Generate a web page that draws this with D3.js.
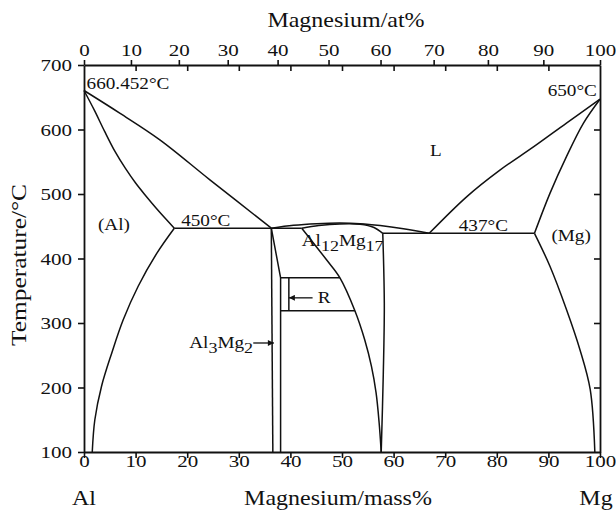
<!DOCTYPE html>
<html>
<head>
<meta charset="utf-8">
<script src="https://cdn.jsdelivr.net/npm/d3@7"></script>
<style>
  html, body { margin: 0; padding: 0; background: #fff; }
  svg text { font-family: "Liberation Serif", "Times New Roman", serif; fill: #111; }
</style>
</head>
<body>
<svg id="chart" width="616" height="511"></svg>
<script>
// Al-Mg phase diagram: Mg content in mass% against temperature in degC

// axis ticks
const massTicks = [0, 10, 20, 30, 40, 50, 60, 70, 80, 90, 100];
const atTicks = [0, 10, 20, 30, 40, 50, 60, 70, 80, 90, 100];
const tempTicks = [100, 200, 300, 400, 500, 600, 700];

// phase boundaries, [mass% Mg, temperature]
const liquidusAl = [[0, 660.452], [7, 625], [14.7, 584], [24.4, 522], [36.3, 447]];
const solidusAl = [[0, 660.452], [2, 630], [4, 597], [6, 566], [8, 540], [10, 517], [12, 497], [14, 478], [16, 460], [17.5, 447]];
const solvusAl = [[17.5, 447], [14.1, 408], [10.5, 357], [7.6, 305], [5.4, 254], [3.4, 202], [2.1, 150], [1.6, 100]];
const eutecticAl = [[17.5, 447], [42.2, 447]];

const al3mg2Left = [[36.3, 447], [36.6, 100]];
const al3mg2Right = [[36.3, 447], [38.1, 370], [38.1, 100]];
const rTop = [[38.1, 370], [49.6, 370]];
const rBottom = [[38.1, 319], [52.5, 319]];
const rLine = [[39.7, 370], [39.7, 319]];

const gammaLiquidus = [[36.3, 447], [40.6, 451.5], [45.1, 454], [49.6, 455], [53.5, 454], [57.4, 451], [61.9, 446], [66.9, 439]];
const gammaSolidus = [[42.2, 447], [45.5, 451], [49.6, 453.5], [53.5, 453], [56.2, 448], [57.9, 439]];
const gammaLeft = [[42.2, 447], [47.0, 398], [49.6, 370], [52.5, 319], [54.4, 274], [55.7, 233], [56.6, 192], [57.2, 145], [57.6, 100]];
const gammaRight = [[57.9, 439], [58.2, 330], [58.0, 220], [57.6, 100]];

const liquidusMg = [[66.9, 439], [74.2, 496], [80.6, 537], [87.1, 573], [93.5, 610], [100, 647]];
const solidusMg = [[87.3, 439], [90.3, 501], [93.5, 558], [96.8, 610], [100, 647]];
const solvusMg = [[87.3, 439], [90.3, 388], [93.5, 321], [96.1, 259], [98.1, 197], [99.0, 100]];
const eutecticMg = [[57.9, 439], [87.3, 439]];

// labels placed in data units
const labels = [
  { t: "660.452°C", m: 0.5, T: 663, anchor: "start" },
  { t: "650°C", m: 99.4, T: 652, anchor: "end" },
  { t: "L", m: 68.2, T: 559, anchor: "middle" },
  { t: "437°C", m: 77.4, T: 443, anchor: "middle" },
  { t: "(Mg)", m: 94.4, T: 427, anchor: "middle" },
  { t: "(Al)", m: 5.8, T: 444, anchor: "middle" },
  { t: "450°C", m: 23.6, T: 450.5, anchor: "middle" },
  { t: "R", m: 45.3, T: 331, anchor: "start" }
];
const formulas = [
  { parts: [["Al", 0], ["12", 1], ["Mg", 0], ["17", 1]], m: 42.2, T: 419.5 },
  { parts: [["Al", 0], ["3", 1], ["Mg", 0], ["2", 1]], m: 20.4, T: 260.5 }
];
const arrows = [
  { from: [32.8, 269], to: [36.8, 269] },
  { from: [44.3, 339], to: [39.7, 339] }
];

const svg = d3.select("#chart");
const sx = 1.2; // glyphs in the source are a bit wide

const x = d3.scaleLinear().domain([0, 100]).range([84, 600]);
const y = d3.scaleLinear().domain([100, 700]).range([452, 65]);

// at% -> mass% for the upper axis
const atToMass = a => 100 * a * 24.305 / (a * 24.305 + (100 - a) * 26.982);

svg.append("defs").append("marker")
  .attr("id", "arrow")
  .attr("viewBox", "0 0 10 10")
  .attr("refX", 10).attr("refY", 5)
  .attr("markerUnits", "userSpaceOnUse")
  .attr("markerWidth", 8).attr("markerHeight", 6)
  .attr("orient", "auto")
  .append("path").attr("d", "M0,0L10,5L0,10z").attr("fill", "#111");

function styleAxis(g, size) {
  g.attr("font-family", null).attr("font-size", null);
  g.select(".domain").attr("stroke", "#111").attr("stroke-width", 1.8);
  g.selectAll(".tick line").attr("stroke", "#111").attr("stroke-width", 1.6);
  g.selectAll(".tick text").style("font-size", size + "px");
}

// bottom axis
svg.append("g")
  .attr("transform", "translate(0," + y(100) + ")")
  .call(d3.axisBottom(x).tickValues(massTicks).tickSize(6).tickSizeOuter(0).tickPadding(-3))
  .call(g => styleAxis(g, 17.5))
  .call(g => g.selectAll(".tick text").attr("transform", "scale(" + sx + ",1)"));

// top axis, at% labels
svg.append("g")
  .attr("transform", "translate(0," + y(700) + ")")
  .call(d3.axisTop(x).tickValues(atTicks.map(atToMass)).tickFormat((d, i) => atTicks[i])
    .tickSize(5).tickSizeOuter(0).tickPadding(4))
  .call(g => styleAxis(g, 17.5))
  .call(g => g.selectAll(".tick text").attr("transform", "scale(" + sx + ",1)"));

// top axis, inner mass% ticks
svg.append("g")
  .attr("transform", "translate(0," + y(700) + ")")
  .call(d3.axisTop(x).tickValues(massTicks.slice(1, -1)).tickFormat("").tickSize(-6).tickSizeOuter(0))
  .call(g => styleAxis(g, 17.5))
  .call(g => g.select(".domain").remove());

// left axis
svg.append("g")
  .attr("transform", "translate(" + x(0) + ",0)")
  .call(d3.axisLeft(y).tickValues(tempTicks).tickSize(6).tickSizeOuter(0))
  .call(g => styleAxis(g, 17.5))
  .call(g => g.selectAll(".tick text").attr("x", -12 / sx).attr("transform", "scale(" + sx + ",1)"));

// right axis, inner ticks only
svg.append("g")
  .attr("transform", "translate(" + x(100) + ",0)")
  .call(d3.axisRight(y).tickValues(tempTicks.slice(1, -1)).tickFormat("").tickSize(-6).tickSizeOuter(0))
  .call(g => styleAxis(g, 17.5));

// axis titles
function title(px, py, str, rot, k) {
  svg.append("text")
    .attr("transform", "translate(" + px + "," + py + ")" + (rot ? " rotate(" + rot + ")" : "") + " scale(" + (k || sx) + ",1)")
    .attr("text-anchor", "middle")
    .style("font-size", "20px")
    .text(str);
}
title(346, 27, "Magnesium/at%");
title(338, 505, "Magnesium/mass%");
title(26, 265, "Temperature/°C", -90, 1.27);
title(x(0), 505, "Al");
title(596, 505, "Mg");

// phase boundaries
const curve = d3.line().x(d => x(d[0])).y(d => y(d[1])).curve(d3.curveCatmullRom.alpha(0.5));
const straight = d3.line().x(d => x(d[0])).y(d => y(d[1]));

const curves = [liquidusAl, solidusAl, solvusAl, gammaLiquidus, gammaSolidus, gammaLeft, gammaRight,
  liquidusMg, solidusMg, solvusMg];
const segments = [eutecticAl, eutecticMg, al3mg2Left, al3mg2Right, rTop, rBottom, rLine];

const plot = svg.append("g").attr("fill", "none").attr("stroke", "#111").attr("stroke-width", 1.5);
plot.selectAll("path.curve").data(curves).enter().append("path")
  .attr("class", "curve").attr("d", curve);
plot.selectAll("path.seg").data(segments).enter().append("path")
  .attr("class", "seg").attr("d", straight);

plot.selectAll("line.arrow").data(arrows).enter().append("line")
  .attr("class", "arrow")
  .attr("x1", d => x(d.from[0])).attr("y1", d => y(d.from[1]))
  .attr("x2", d => x(d.to[0])).attr("y2", d => y(d.to[1]))
  .attr("stroke-width", 1.3)
  .attr("marker-end", "url(#arrow)");

// text labels
svg.selectAll("text.lbl").data(labels).enter().append("text")
  .attr("class", "lbl")
  .attr("transform", d => "translate(" + x(d.m) + "," + y(d.T) + ") scale(" + sx + ",1)")
  .attr("text-anchor", d => d.anchor)
  .style("font-size", "16px")
  .text(d => d.t);

formulas.forEach(f => {
  const t = svg.append("text")
    .attr("transform", "translate(" + x(f.m) + "," + y(f.T) + ") scale(" + sx + ",1)")
    .style("font-size", "16px");
  let low = 0;
  f.parts.forEach(p => {
    t.append("tspan")
      .attr("dy", p[1] ? 5 : (low ? -5 : 0))
      .style("font-size", p[1] ? "15px" : "16px")
      .text(p[0]);
    low = p[1];
  });
});
</script>
</body>
</html>
